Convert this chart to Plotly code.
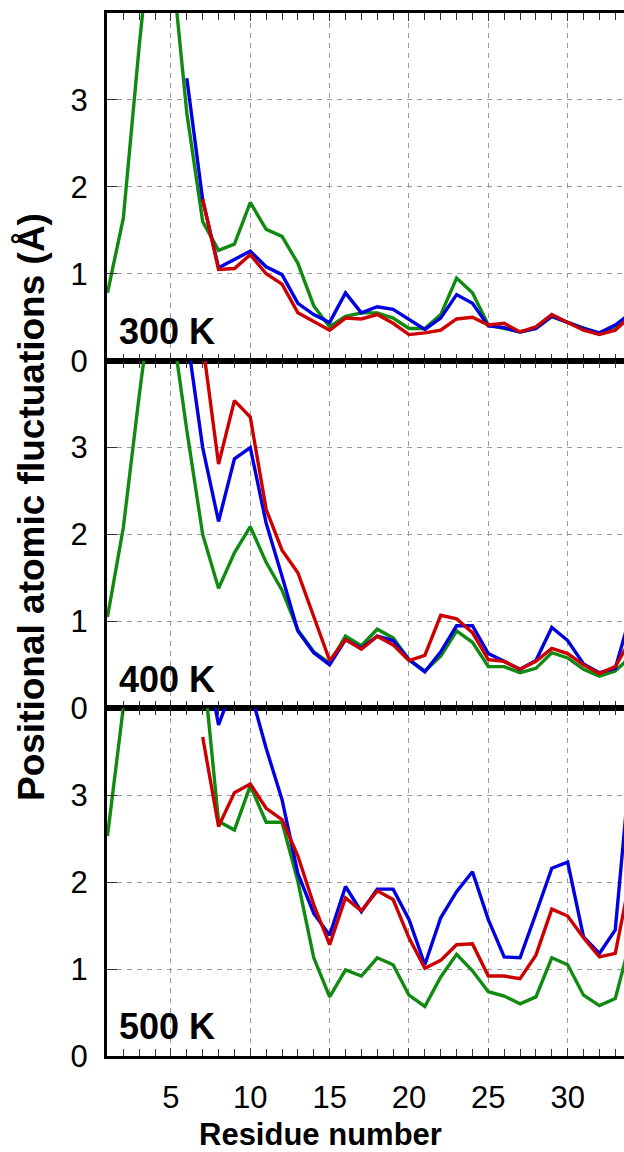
import plotly.graph_objects as go
from plotly.subplots import make_subplots

residues = list(range(1, 35))
panel_labels = ["300 K", "400 K", "500 K"]
y_ticks = [0, 1, 2, 3]
x_ticks = [5, 10, 15, 20, 25, 30]

N = None
green_300 = [0.78, 1.64, 3.62, 5.4, 4.7, 2.85, 1.60, 1.27, 1.34, 1.82, 1.51, 1.43, 1.12, 0.63, 0.39,
             0.51, 0.55, 0.55, 0.49, 0.37, 0.37, 0.53, 0.95, 0.78, 0.41, 0.37, 0.33, 0.37, 0.51, 0.44,
             0.37, 0.31, 0.39, 0.55]
blue_300 = [N, N, N, N, N, 3.25, 1.85, 1.07, 1.16, 1.26, 1.08, 0.99, 0.66, 0.53, 0.44,
            0.78, 0.55, 0.62, 0.59, 0.48, 0.36, 0.49, 0.76, 0.66, 0.40, 0.38, 0.33, 0.37, 0.51, 0.44,
            0.37, 0.32, 0.41, 0.55]
red_300 = [N, N, N, N, N, N, 1.86, 1.05, 1.06, 1.22, 1.00, 0.88, 0.55, 0.45, 0.35,
           0.49, 0.48, 0.53, 0.43, 0.30, 0.32, 0.35, 0.48, 0.50, 0.41, 0.43, 0.33, 0.39, 0.53, 0.44,
           0.35, 0.30, 0.35, 0.52]

green_400 = [1.05, 2.08, 3.6, 5.0, 4.5, 3.2, 2.0, 1.38, 1.79, 2.09, 1.68, 1.36, 0.90, 0.65, 0.52,
             0.83, 0.72, 0.91, 0.81, 0.56, 0.43, 0.60, 0.89, 0.76, 0.48, 0.48, 0.41, 0.46, 0.64, 0.58,
             0.45, 0.37, 0.43, 0.60]
blue_400 = [N, N, N, N, N, 4.3, 3.0, 2.15, 2.87, 3.0, 2.13, 1.52, 0.89, 0.64, 0.50,
            0.79, 0.69, 0.83, 0.78, 0.56, 0.42, 0.65, 0.95, 0.95, 0.63, 0.54, 0.45, 0.55, 0.93, 0.78,
            0.51, 0.41, 0.46, 1.10]
red_400 = [N, N, N, N, N, N, 4.2, 2.81, 3.54, 3.35, 2.29, 1.82, 1.56, 1.06, 0.55,
           0.79, 0.68, 0.83, 0.73, 0.55, 0.61, 1.07, 1.03, 0.87, 0.56, 0.54, 0.45, 0.54, 0.69, 0.63,
           0.50, 0.40, 0.48, 0.80]

green_500 = [2.53, 4.2, 5.5, 6.0, 5.5, 5.0, 4.56, 2.70, 2.60, 3.11, 2.69, 2.69, 2.01, 1.13, 0.68,
             0.99, 0.92, 1.13, 1.05, 0.70, 0.57, 0.91, 1.17, 0.98, 0.74, 0.69, 0.60, 0.68, 1.13, 1.05,
             0.70, 0.58, 0.66, 1.36]
blue_500 = [N, N, N, N, N, 5.2, 4.77, 3.81, 4.3, 4.2, 3.54, 2.95, 2.10, 1.64, 1.39,
            1.95, 1.66, 1.92, 1.92, 1.57, 1.05, 1.59, 1.89, 2.12, 1.57, 1.14, 1.13, 1.64, 2.16, 2.23,
            1.37, 1.18, 1.45, 3.45]
red_500 = [N, N, N, N, N, N, 3.67, 2.64, 3.03, 3.13, 2.85, 2.72, 2.30, 1.74, 1.28,
           1.82, 1.67, 1.90, 1.80, 1.36, 1.01, 1.10, 1.28, 1.29, 0.92, 0.92, 0.89, 1.16, 1.69, 1.61,
           1.36, 1.14, 1.18, 2.10]

panels = [
    (green_300, blue_300, red_300),
    (green_400, blue_400, red_400),
    (green_500, blue_500, red_500),
]
colors = {"green": "#108a10", "blue": "#0000e0", "red": "#cc0000"}

W, H = 624, 1152
# plot area in page pixels
P_LEFT, P_RIGHT, P_TOP, P_BOTTOM = 107, 624, 13, 1056
ML, MR, MT, MB = P_LEFT, W - P_RIGHT, P_TOP, H - P_BOTTOM
PW, PH = P_RIGHT - P_LEFT, P_BOTTOM - P_TOP


def px_x(px):
    return (px - P_LEFT) / PW


def px_y(py):
    return (P_BOTTOM - py) / PH


fig = make_subplots(rows=3, cols=1, shared_xaxes=True, vertical_spacing=0)

for i, (g, b, r) in enumerate(panels, start=1):
    for name, vals in (("green", g), ("blue", b), ("red", r)):
        fig.add_trace(go.Scatter(x=residues, y=vals, mode="lines",
                                 line=dict(color=colors[name], width=3.4),
                                 showlegend=False, connectgaps=False), row=i, col=1)

font_family = "Liberation Sans, Arial, sans-serif"
for i in range(1, 4):
    fig.update_xaxes(row=i, col=1, range=[0.97, 33.55], tickvals=x_ticks,
                     ticktext=[str(v) for v in x_ticks],
                     showticklabels=(i == 3),
                     ticks="inside", ticklen=8, tickwidth=1.2, tickcolor="#333",
                     minor=dict(dtick=1, tick0=0, ticks="inside", ticklen=7, tickwidth=1.2,
                                tickcolor="#333", showgrid=False),
                     showline=True, linewidth=3, linecolor="black", mirror="ticks",
                     showgrid=True, gridcolor="#999999", gridwidth=1.4, griddash="5px,5px",
                     zeroline=False, ticklabelstandoff=12,
                     tickfont=dict(family=font_family, size=31, color="black"))
    fig.update_yaxes(row=i, col=1, range=[0, 4], tickvals=y_ticks,
                     ticks="inside", ticklen=10, tickwidth=1.2, tickcolor="#333",
                     showline=True, linewidth=3, linecolor="black", mirror=False,
                     showgrid=True, gridcolor="#999999", gridwidth=1.4, griddash="5px,5px",
                     zeroline=False, ticklabelstandoff=10,
                     tickfont=dict(family=font_family, size=31, color="black"))

annotations = []
baselines = [345, 692, 1039]
for lab, base in zip(panel_labels, baselines):
    annotations.append(dict(text=f"<b>{lab}</b>", xref="paper", yref="paper",
                            x=px_x(117), y=px_y(base - 13),
                            xanchor="left", yanchor="middle", showarrow=False,
                            font=dict(family=font_family, size=36, color="black")))
annotations.append(dict(text="<b>Positional atomic fluctuations (Å)</b>", xref="paper", yref="paper",
                        x=px_x(31), y=px_y(507), textangle=-90,
                        xanchor="center", yanchor="middle", showarrow=False,
                        font=dict(family=font_family, size=37, color="black")))
annotations.append(dict(text="<b>Residue number</b>", xref="paper", yref="paper",
                        x=px_x(320), y=px_y(1134),
                        xanchor="center", yanchor="middle", showarrow=False,
                        font=dict(family=font_family, size=31, color="black")))

fig.update_layout(width=W, height=H, margin=dict(l=ML, r=MR, t=MT, b=MB),
                  plot_bgcolor="white", paper_bgcolor="white",
                  annotations=annotations, showlegend=False)

fig.write_html("out.html",
               config={"displayModeBar": False},
               post_script="document.body.style.margin='0';"
                           "document.documentElement.style.overflow='hidden';"
                           "document.body.style.overflow='hidden';")
